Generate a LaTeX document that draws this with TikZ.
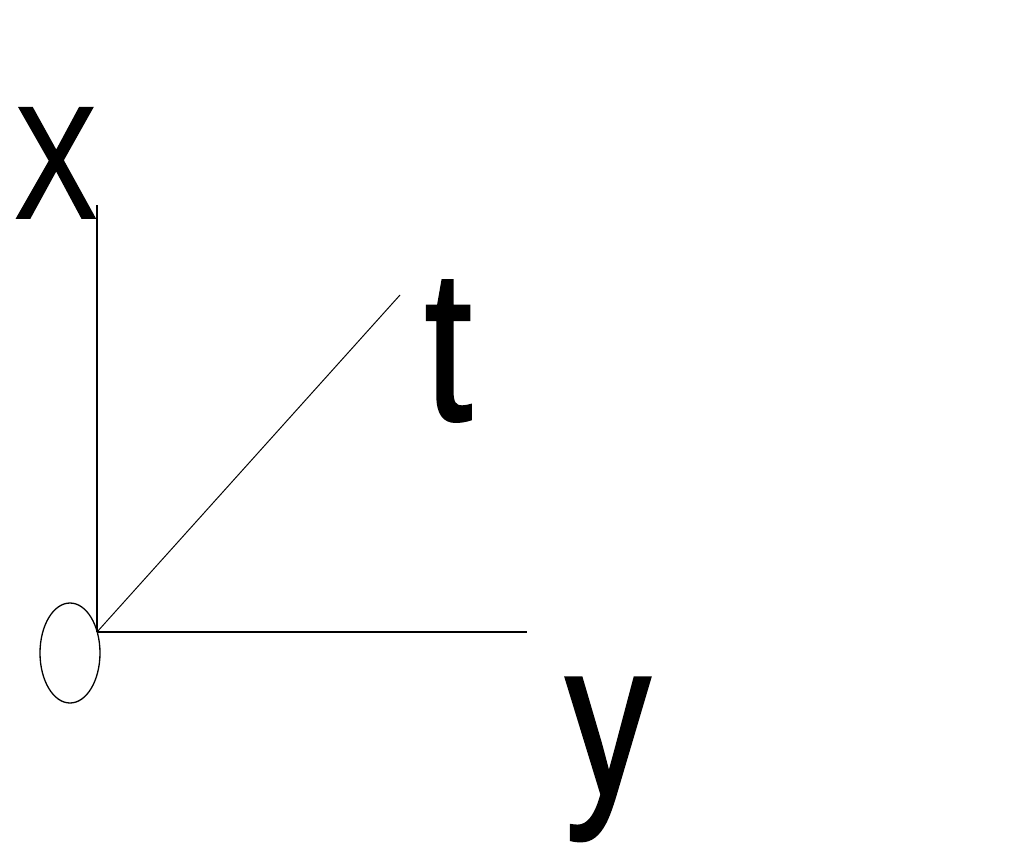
\documentclass[tikz,border=0pt]{standalone}
\usepackage{fontspec}
\setmainfont{Liberation Sans}
\newfontfamily\lblfont[FakeBold=1.2]{Liberation Sans}
\usetikzlibrary{shapes.geometric}
\begin{document}
\begin{tikzpicture}[x=1pt,y=-1pt,
  axis/.style={line width=1.3pt,black},
  lbl/.style={inner sep=0pt,anchor=base west}]
\useasboundingbox (0,0) rectangle (1024,853);
\coordinate (o) at (97,632);
\coordinate (xend) at (97,205);
\coordinate (yend) at (527,632);
\coordinate (tend) at (400,295);
\draw[axis] (o) -- (xend);
\draw[axis] (o) -- (yend);
\draw[line width=1pt] (o) -- (tend);
\node[draw,line width=1.3pt,ellipse,minimum width=60pt,minimum height=100pt,inner sep=0pt] (circ) at (70,653) {};
\node[lbl] (lx) at (14,218) {\lblfont\fontsize{160}{160}\selectfont\scalebox{0.78}[1]{X}};
\node[lbl] (lt) at (424,420) {\lblfont\fontsize{216}{216}\selectfont\scalebox{0.8}[1]{t}};
\node[lbl] (ly) at (565,795) {\lblfont\fontsize{222}{222}\selectfont\scalebox{0.77}[1]{y}};
\end{tikzpicture}
\end{document}
